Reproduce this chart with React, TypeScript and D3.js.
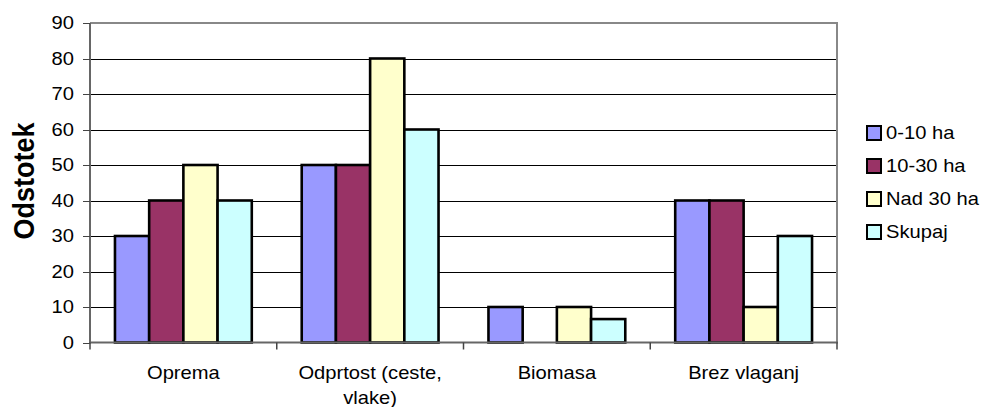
import React from "react";
import * as d3 from "d3";

const categories: string[][] = [["Oprema"], ["Odprtost (ceste,", "vlake)"], ["Biomasa"], ["Brez vlaganj"]];
const seriesNames = ["0-10 ha", "10-30 ha", "Nad 30 ha", "Skupaj"];
const seriesColors = ["#9999FF", "#993366", "#FFFFCC", "#CCFFFF"];
const s0_10 = [30, 50, 10, 40];
const s10_30 = [40, 50, 0, 40];
const sNad30 = [50, 80, 10, 10];
const sSkupaj = [40, 60, 6.6, 30];
const yTicks = [0, 10, 20, 30, 40, 50, 60, 70, 80, 90];
const yTitle = "Odstotek";

const series = [s0_10, s10_30, sNad30, sSkupaj];

const W = 983;
const H = 407;
const left = 90;
const right = 837;
const top = 23;
const bottom = 342.5;
const SX = 1.12;
const FONT = "Liberation Sans, Arial, sans-serif";

export default function App() {
  const x = d3.scaleBand<number>().domain(d3.range(categories.length)).range([left, right]).padding(0);
  const y = d3.scaleLinear().domain([0, 90]).range([bottom, top]);
  const catW = x.bandwidth();
  const barW = catW / 5.46;
  const pad = (catW - barW * series.length) / 2;
  const inner = d3.scaleBand<number>().domain(d3.range(series.length)).range([pad, pad + barW * series.length]).padding(0);

  return (
    <svg width={W} height={H} style={{ position: "absolute", left: 0, top: 0, background: "#fff" }}>
      {/* gridlines */}
      {yTicks.filter((t) => t > 0 && t < 90).map((t) => (
        <line key={"g" + t} x1={left} x2={right} y1={Math.round(y(t)) + 0.5} y2={Math.round(y(t)) + 0.5} stroke="#000" strokeWidth={1} />
      ))}
      {/* plot border top & right */}
      <line x1={left} x2={right + 1} y1={top} y2={top} stroke="#888" strokeWidth={2} />
      <line x1={right} x2={right} y1={top} y2={bottom} stroke="#888" strokeWidth={2} />
      {/* bars */}
      {series.map((vals, si) =>
        vals.map((v, ci) =>
          v > 0 ? (
            <rect
              key={`b${si}-${ci}`}
              x={(x(ci) as number) + (inner(si) as number)}
              y={y(v)}
              width={barW}
              height={bottom - y(v)}
              fill={seriesColors[si]}
              stroke="#000"
              strokeWidth={2.6}
            />
          ) : null
        )
      )}
      {/* axes */}
      <line x1={left} x2={left} y1={top} y2={bottom + 1} stroke="#666" strokeWidth={2} />
      <line x1={left - 1} x2={right + 1} y1={bottom} y2={bottom} stroke="#666" strokeWidth={2} />
      {yTicks.map((t) => (
        <g key={"t" + t}>
          <line x1={left - 7} x2={left} y1={Math.round(y(t)) + 0.5} y2={Math.round(y(t)) + 0.5} stroke="#444" strokeWidth={1} />
          <text
            transform={`translate(${left - 16},${y(t)}) scale(${SX},1)`}
            textAnchor="end"
            dy="0.36em"
            fontSize={18}
            fontFamily={FONT}
            fill="#000"
          >
            {t}
          </text>
        </g>
      ))}
      {d3.range(categories.length + 1).map((i) => {
        const xx = left + i * catW;
        return <line key={"xt" + i} x1={xx} x2={xx} y1={bottom} y2={bottom + 7} stroke="#444" strokeWidth={1.5} />;
      })}
      {categories.map((lines, ci) => (
        <text
          key={"c" + ci}
          transform={`translate(${(x(ci) as number) + catW / 2},379) scale(${SX},1)`}
          textAnchor="middle"
          fontSize={18}
          fontFamily={FONT}
          fill="#000"
        >
          {lines.map((l, li) => (
            <tspan key={li} x={0} dy={li === 0 ? 0 : 25}>
              {l}
            </tspan>
          ))}
        </text>
      ))}
      {/* y title */}
      <text
        transform={`translate(34,181) scale(${SX},1) rotate(-90)`}
        textAnchor="middle"
        fontSize={27}
        fontWeight="bold"
        fontFamily={FONT}
        fill="#000"
      >
        {yTitle}
      </text>
      {/* legend */}
      {seriesNames.map((n, i) => {
        const cy = 133 + i * 33;
        return (
          <g key={"l" + i}>
            <rect x={867} y={cy - 7} width={14} height={14} fill={seriesColors[i]} stroke="#000" strokeWidth={2} />
            <text
              transform={`translate(886,${cy}) scale(${SX},1)`}
              dy="0.36em"
              fontSize={18}
              fontFamily={FONT}
              fill="#000"
            >
              {n}
            </text>
          </g>
        );
      })}
    </svg>
  );
}
